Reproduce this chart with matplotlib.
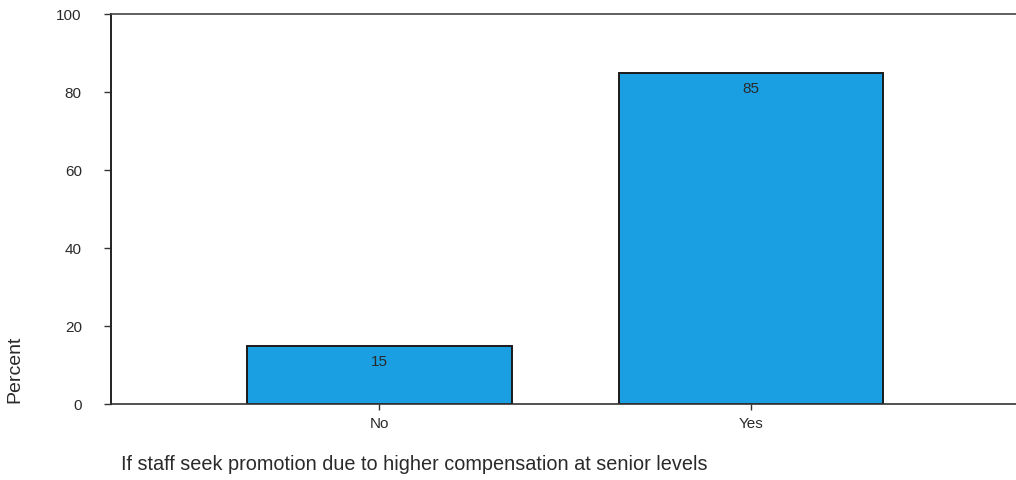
import matplotlib
matplotlib.use('Agg')
from matplotlib import pyplot as plt

categories = ['No', 'Yes']
percent = [15, 85]
yticks = [0, 20, 40, 60, 80, 100]
xlabel = 'If staff seek promotion due to higher compensation at senior levels'
ylabel = 'Percent'

plt.rcParams['font.family'] = ['Liberation Sans', 'DejaVu Sans']

fig = plt.figure(figsize=(10.16, 4.8), dpi=100)
ax = fig.add_axes([111 / 1016, 76 / 480, 1 - 111 / 1016 + 0.002, 390 / 480])

pos = list(range(len(categories)))
bars = ax.bar(pos, percent, width=0.713, color='#1A9FE2', edgecolor='#1a1a1a', linewidth=1.4)
for b, v in zip(bars, percent):
    ax.annotate(str(v), (b.get_x() + b.get_width() / 2, v), xytext=(0, -12),
                textcoords='offset points', ha='center', va='center',
                fontsize=11, color='#2a2a2a')

ax.set_xlim(-0.7227, 1.719)
ax.set_ylim(0, 100)
ax.set_yticks(yticks)
ax.set_xticks(pos)
ax.set_xticklabels(categories, fontsize=11, color='#2a2a2a')
ax.set_yticklabels([str(t) for t in yticks], fontsize=11, color='#2a2a2a')
ax.tick_params(axis='y', length=5, width=1, pad=16, color='#333333')
ax.tick_params(axis='x', length=4, width=1, pad=5, color='#333333')

ax.spines['right'].set_visible(False)
ax.spines['left'].set_linewidth(1.4)
ax.spines['left'].set_color('#222222')
ax.spines['bottom'].set_linewidth(1.2)
ax.spines['bottom'].set_color('#333333')
ax.spines['top'].set_linewidth(1.2)
ax.spines['top'].set_color('#444444')

fig.text(15 / 1016, 1 - 369 / 480, ylabel, rotation=90, ha='center', va='center',
         fontsize=14, color='#2a2a2a')
fig.text(121 / 1016, 1 - 464 / 480, xlabel, ha='left', va='center',
         fontsize=14.3, color='#2a2a2a')

fig.savefig('out.png', dpi=100, facecolor='white')
